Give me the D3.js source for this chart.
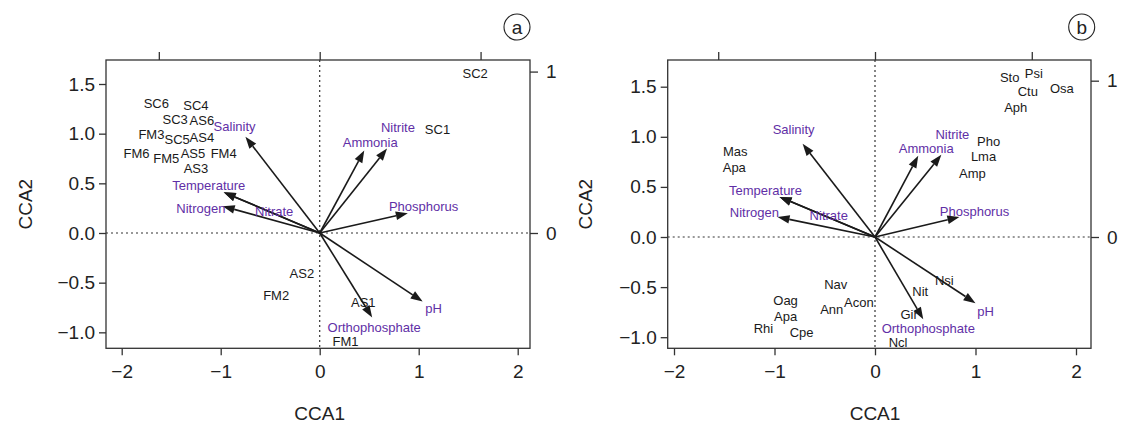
<!DOCTYPE html>
<html>
<head>
<meta charset="utf-8">
<script src="https://cdn.jsdelivr.net/npm/d3@7"></script>
<style>
  html, body { margin: 0; padding: 0; background: #fff; }
  svg { display: block; }
  text { font-family: "Liberation Sans", Arial, sans-serif; }
</style>
</head>
<body>
<svg id="chart" width="1122" height="430"></svg>
<script>
// ---------- DATA ----------
const xTicks = [-2, -1, 0, 1, 2];
const yTicks = [-1.0, -0.5, 0.0, 0.5, 1.0, 1.5];
const secTicksTop = [-1, 0, 1];
const secTicksRight = [0, 1];

const envNames = ["Salinity", "Temperature", "Nitrogen", "Nitrate", "Ammonia", "Nitrite", "Phosphorus", "pH", "Orthophosphate"];

// Panel (a): sites
const sitesA = ["SC6","SC4","SC3","AS6","FM3","SC5","AS4","FM6","FM5","AS5","FM4","AS3","SC2","SC1","AS2","FM2","AS1","FM1"];
const siteXA = [-1.65,-1.25,-1.46,-1.19,-1.70,-1.44,-1.19,-1.85,-1.55,-1.28,-0.97,-1.25,1.57,1.19,-0.18,-0.44,0.44,0.26];
const siteYA = [1.31,1.29,1.14,1.13,0.99,0.94,0.96,0.80,0.75,0.80,0.80,0.65,1.61,1.04,-0.41,-0.63,-0.70,-1.09];
// Panel (a): environmental arrows (tips) and label positions
const envXA = [-0.75,-0.97,-0.98,-0.97,0.45,0.68,0.89,1.04,0.53];
const envYA = [0.97,0.41,0.27,0.41,0.83,0.85,0.20,-0.69,-0.85];
const envLabXA = [-0.86,-1.12,-1.20,-0.46,0.51,0.79,1.05,1.15,0.55];
const envLabYA = [1.07,0.48,0.25,0.22,0.91,1.06,0.27,-0.76,-0.95];

// Panel (b): species
const speciesB = ["Mas","Apa","Sto","Psi","Ctu","Osa","Aph","Pho","Lma","Amp","Nav","Oag","Ann","Acon","Apa","Rhi","Cpe","Nsi","Nit","Gir","Ncl"];
const specXB = [-1.39,-1.40,1.34,1.58,1.52,1.86,1.40,1.13,1.08,0.97,-0.39,-0.89,-0.43,-0.16,-0.89,-1.11,-0.73,0.69,0.45,0.34,0.23];
const specYB = [0.86,0.70,1.59,1.63,1.45,1.48,1.29,0.95,0.81,0.64,-0.47,-0.63,-0.72,-0.65,-0.79,-0.91,-0.95,-0.43,-0.54,-0.77,-1.05];
// Panel (b): environmental arrows (tips) and label positions
const envXB = [-0.72,-0.95,-0.97,-0.95,0.43,0.66,0.84,1.00,0.48];
const envYB = [0.93,0.40,0.20,0.40,0.81,0.82,0.20,-0.66,-0.82];
const envLabXB = [-0.81,-1.09,-1.20,-0.46,0.51,0.77,0.99,1.10,0.53];
const envLabYB = [1.07,0.47,0.25,0.22,0.89,1.02,0.26,-0.74,-0.91];

// ---------- DRAW ----------
const svg = d3.select("#chart");
const purple = "#5f2fa6";
const axisCol = "#333";
const fmtY = d => d3.format(".1f")(d).replace("-", "\u2212");
const fmtX = d => String(d).replace("-", "\u2212");

function drawPanel(cfg) {
  const g = svg.append("g");
  const b = cfg.box;
  const x = d3.scaleLinear().domain(cfg.xDom).range([cfg.xRange[0], cfg.xRange[1]]);
  const y = d3.scaleLinear().domain(cfg.yDom).range([cfg.yRange[0], cfg.yRange[1]]);
  const xs = d3.scaleLinear().domain([0, 1]).range([x(0), x(0) + (x(1) - x(0)) * cfg.secRatio]);
  const ys = d3.scaleLinear().domain([0, 1]).range([y(0), y(0) - (y(0) - y(1)) * cfg.secRatio]);

  const clipId = "clip" + cfg.id;
  svg.append("clipPath").attr("id", clipId).append("rect")
    .attr("x", b.x0).attr("y", b.y0).attr("width", b.x1 - b.x0).attr("height", b.y1 - b.y0);

  // dotted zero lines
  g.append("line").attr("x1", b.x0).attr("x2", b.x1).attr("y1", y(0)).attr("y2", y(0))
    .attr("stroke", "#333").attr("stroke-width", 1.2).attr("stroke-dasharray", "2,3");
  g.append("line").attr("x1", x(0)).attr("x2", x(0)).attr("y1", b.y0).attr("y2", b.y1)
    .attr("stroke", "#333").attr("stroke-width", 1.2).attr("stroke-dasharray", "2,3");

  // box
  g.append("rect").attr("x", b.x0).attr("y", b.y0).attr("width", b.x1 - b.x0).attr("height", b.y1 - b.y0)
    .attr("fill", "none").attr("stroke", axisCol).attr("stroke-width", 1.3);

  // axes
  const styleAxis = (sel) => {
    sel.select(".domain").remove();
    sel.selectAll(".tick line").attr("stroke", axisCol).attr("stroke-width", 1.3);
    sel.selectAll(".tick text").attr("fill", "#222").style("font-size", "19px")
      .style("font-family", "'Liberation Sans', Arial, sans-serif");
  };
  g.append("g").attr("transform", `translate(0,${b.y1})`)
    .call(d3.axisBottom(x).tickValues(xTicks).tickFormat(fmtX).tickSize(7).tickPadding(9))
    .call(styleAxis);
  g.append("g").attr("transform", `translate(${b.x0},0)`)
    .call(d3.axisLeft(y).tickValues(yTicks).tickFormat(fmtY).tickSize(7).tickPadding(4))
    .call(styleAxis);
  g.append("g").attr("transform", `translate(0,${b.y0})`)
    .call(d3.axisTop(xs).tickValues(secTicksTop).tickFormat("").tickSize(8))
    .call(styleAxis);
  g.append("g").attr("transform", `translate(${b.x1},0)`)
    .call(d3.axisRight(ys).tickValues(secTicksRight).tickFormat(d3.format("d")).tickSize(8).tickPadding(8))
    .call(styleAxis);

  // axis titles
  g.append("text").attr("x", x(0)).attr("y", 420).attr("text-anchor", "middle")
    .style("font-size", "19px").attr("fill", "#222").text("CCA1");
  g.append("text").attr("transform", `translate(${cfg.yTitleX},${(b.y0 + b.y1) / 2}) rotate(-90)`)
    .attr("text-anchor", "middle").attr("dy", "0.35em")
    .style("font-size", "19px").attr("fill", "#222").text("CCA2");

  // circled panel letter
  g.append("circle").attr("cx", cfg.letterX).attr("cy", 27).attr("r", 13)
    .attr("fill", "none").attr("stroke", "#222").attr("stroke-width", 1.1);
  g.append("text").attr("x", cfg.letterX).attr("y", 27).attr("dy", "0.36em").attr("text-anchor", "middle")
    .style("font-size", "19px").attr("fill", "#222").text(cfg.letter);

  // arrows
  const arrows = g.append("g");
  envNames.forEach((name, i) => {
    const x0 = x(0), y0 = y(0), x1 = x(cfg.envX[i]), y1 = y(cfg.envY[i]);
    const ang = Math.atan2(y1 - y0, x1 - x0);
    const hl = 12, hw = 4.3;
    const bx = x1 - hl * Math.cos(ang), by = y1 - hl * Math.sin(ang);
    arrows.append("line").attr("x1", x0).attr("y1", y0).attr("x2", bx).attr("y2", by)
      .attr("stroke", "#1a1a1a").attr("stroke-width", 1.6);
    const px = -Math.sin(ang), py = Math.cos(ang);
    arrows.append("path")
      .attr("d", `M${x1},${y1}L${bx + hw * px},${by + hw * py}L${bx - hw * px},${by - hw * py}Z`)
      .attr("fill", "#1a1a1a");
  });

  // site / species labels
  const lab = g.append("g").attr("clip-path", `url(#${clipId})`);
  lab.selectAll("text.site").data(cfg.names).join("text")
    .attr("class", "site")
    .attr("x", (d, i) => x(cfg.px[i])).attr("y", (d, i) => y(cfg.py[i]))
    .attr("dy", "0.36em").attr("text-anchor", "middle")
    .style("font-size", "13px").attr("fill", "#1a1a1a").text(d => d);

  // environmental labels
  lab.selectAll("text.env").data(envNames).join("text")
    .attr("class", "env")
    .attr("x", (d, i) => x(cfg.envLabX[i])).attr("y", (d, i) => y(cfg.envLabY[i]))
    .attr("dy", "0.36em").attr("text-anchor", "middle")
    .style("font-size", "13px").attr("fill", purple).text(d => d);
}

drawPanel({
  id: "A", letter: "a", letterX: 517, yTitleX: 25,
  box: { x0: 106, x1: 530, y0: 60, y1: 348.3 },
  xDom: [-2, 2], xRange: [121.7, 517.7],
  yDom: [0, 1.5], yRange: [233, 84],
  secRatio: 1.625,
  names: sitesA, px: siteXA, py: siteYA,
  envX: envXA, envY: envYA, envLabX: envLabXA, envLabY: envLabYA
});

drawPanel({
  id: "B", letter: "b", letterX: 1081.7, yTitleX: 585,
  box: { x0: 667.7, x1: 1091, y0: 60, y1: 348.3 },
  xDom: [-2, 2], xRange: [674, 1076],
  yDom: [0, 1.5], yRange: [237, 86.7],
  secRatio: 1.56,
  names: speciesB, px: specXB, py: specYB,
  envX: envXB, envY: envYB, envLabX: envLabXB, envLabY: envLabYB
});
</script>
</body>
</html>
